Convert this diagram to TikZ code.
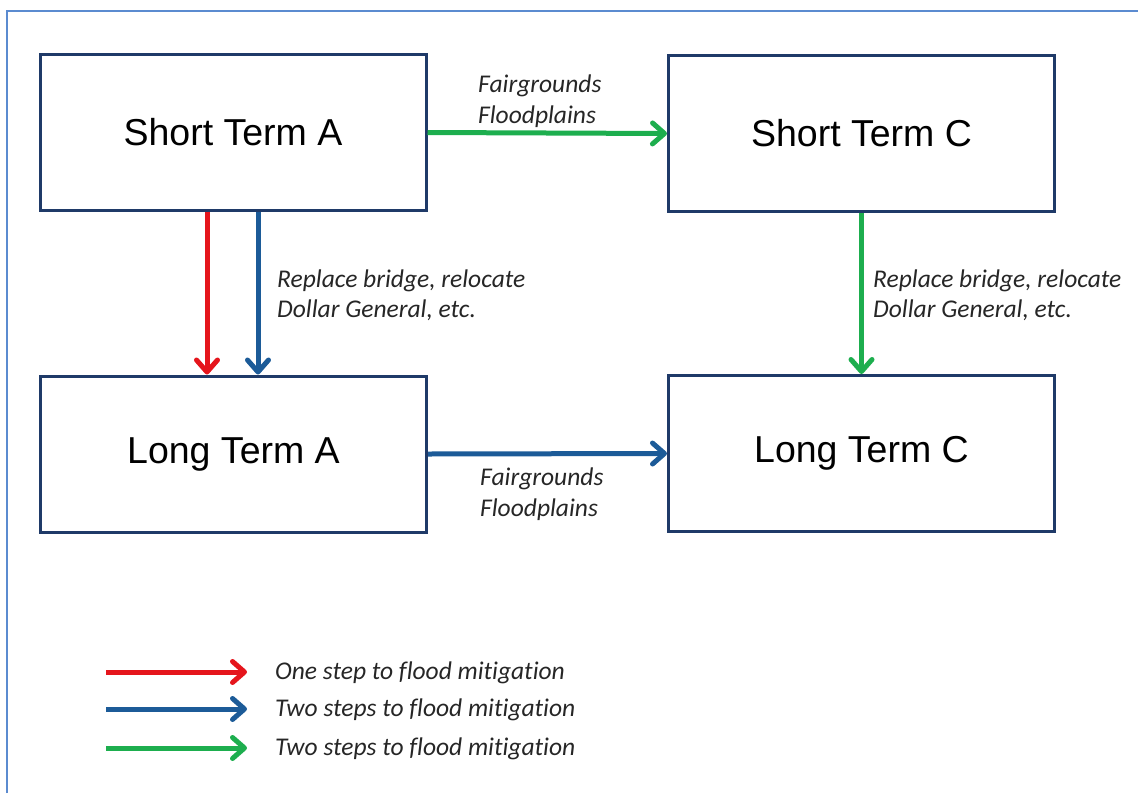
\documentclass[tikz,border=0pt]{standalone}
\usepackage{fontspec}
\setmainfont{Liberation Sans}
\newfontfamily\calfont[Ligatures={NoCommon}]{Carlito}
\usetikzlibrary{arrows.meta}
\definecolor{frameblue}{HTML}{5B8BD0}
\definecolor{boxnavy}{HTML}{1F3A68}
\definecolor{arred}{HTML}{E5151C}
\definecolor{arblue}{HTML}{1C5B98}
\definecolor{argreen}{HTML}{1DAE4E}
\tikzset{
  termbox/.style={draw=boxnavy, line width=3pt, minimum width=386pt, minimum height=156pt, inner sep=0pt, font=\fontsize{37.5}{44}\selectfont},
  conn/.style={line width=5pt, -{Straight Barb[length=12pt, width=21pt, line width=5pt, line cap=round, round]}},
  lbl/.style={font=\calfont\itshape\fontsize{25.5}{30.5}\selectfont, align=left, inner sep=0pt, anchor=west, text=black!85}
}
\begin{document}
\begin{tikzpicture}[x=1pt, y=-1pt]
\useasboundingbox (0,0) rectangle (1138,793);
% outer frame (only top and left visible)
\draw[frameblue, line width=2.5pt] (7,793) -- (7,11) -- (1138,11);
% boxes
\node[termbox] (sa) at (233,132.5) {Short Term A};
\node[termbox] (sc) at (861.5,133.5) {Short Term C};
\node[termbox] (la) at (233.5,454) {Long Term A};
\node[termbox] (lc) at (861.5,453.5) {Long Term C};
% helper coordinates
\coordinate (xr) at (207,0);
\coordinate (xb) at (258,0);
% connectors
\draw[conn, argreen] (sa.east) -- (sc.west);
\draw[conn, arred] (sa.south -| xr) -- (la.north -| xr);
\draw[conn, arblue] (sa.south -| xb) -- (la.north -| xb);
\draw[conn, argreen] (sc.south) -- (lc.north);
\draw[conn, arblue] (la.east) -- (lc.west);
% labels
\node[lbl] (l1) at (478,101) {Fairgrounds\\Floodplains};
\node[lbl] (l2) at (480,494) {Fairgrounds\\Floodplains};
\node[lbl] (l3) at (277,295.5) {Replace bridge, relocate\\Dollar General, etc.};
\node[lbl] (l4) at (873,295.5) {Replace bridge, relocate\\Dollar General, etc.};
% legend
\coordinate (a1) at (106,672);
\coordinate (b1) at (247,672);
\coordinate (a2) at (106,709);
\coordinate (b2) at (247,709);
\coordinate (a3) at (106,748);
\coordinate (b3) at (247,748);
\draw[conn, arred] (a1) -- (b1);
\draw[conn, arblue] (a2) -- (b2);
\draw[conn, argreen] (a3) -- (b3);
\node[lbl] (t1) at (275,673) {One step to flood mitigation};
\node[lbl] (t2) at (275,710) {Two steps to flood mitigation};
\node[lbl] (t3) at (275,749) {Two steps to flood mitigation};
\end{tikzpicture}
\end{document}
